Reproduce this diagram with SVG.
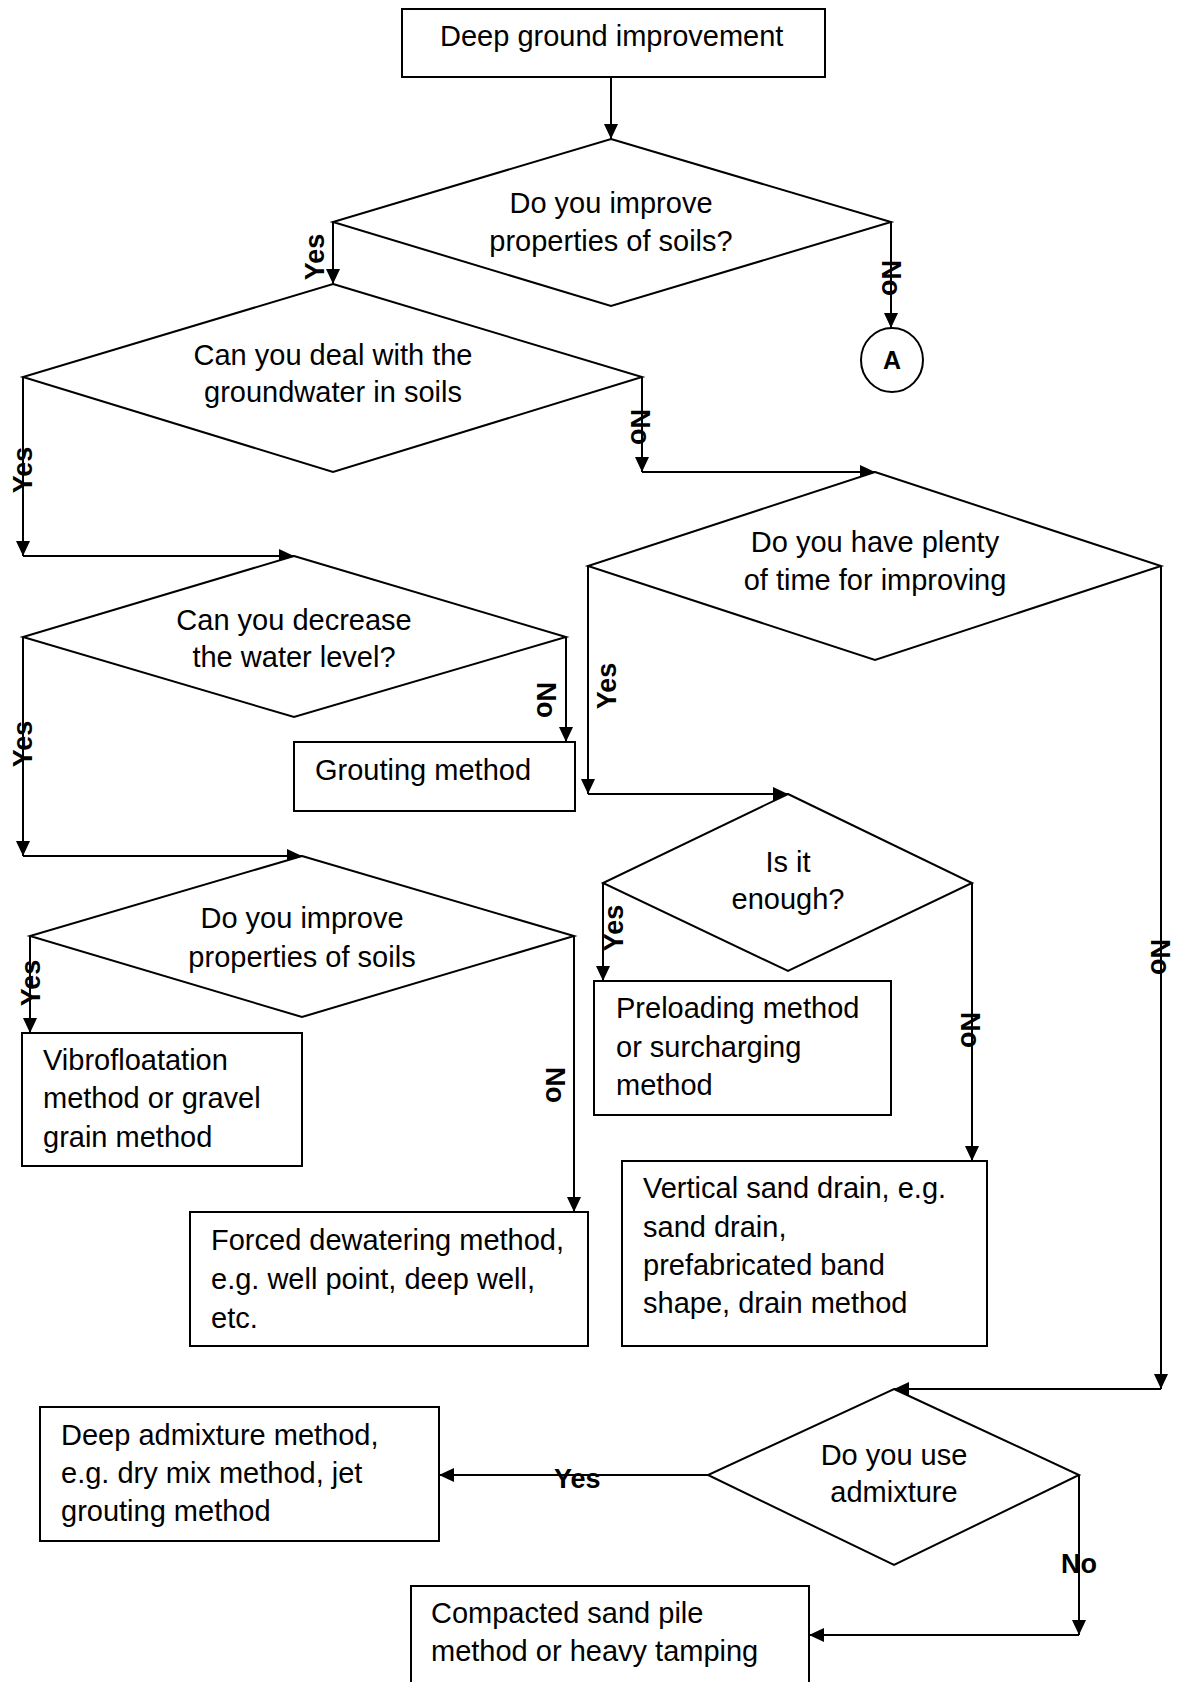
<svg xmlns="http://www.w3.org/2000/svg" width="1179" height="1682" viewBox="0 0 1179 1682">
<style>
  .shape { fill: #fff; stroke: #000; stroke-width: 2; }
  .line { fill: none; stroke: #000; stroke-width: 2; }
  .t { font-family: "Liberation Sans", Arial, sans-serif; font-size: 29px; fill: #000; }
  .c { text-anchor: middle; }
  .lbl { font-family: "Liberation Sans", Arial, sans-serif; font-size: 27px; font-weight: bold; fill: #000; }
  .lm { text-anchor: middle; }
</style>
<defs>
  <marker id="arr" markerUnits="userSpaceOnUse" markerWidth="15" markerHeight="14" refX="15" refY="7" orient="auto">
    <path d="M0,0 L15,7 L0,14 z" fill="#000"/>
  </marker>
</defs>
<rect width="1179" height="1682" fill="#fff"/>

<g id="connectors">
  <line class="line" x1="611" y1="77" x2="611" y2="139" marker-end="url(#arr)"/>
  <line class="line" x1="333" y1="222" x2="333" y2="284" marker-end="url(#arr)"/>
  <line class="line" x1="891" y1="222" x2="891" y2="328" marker-end="url(#arr)"/>
  <line class="line" x1="23" y1="377" x2="23" y2="556" marker-end="url(#arr)"/>
  <line class="line" x1="23" y1="556" x2="294" y2="556" marker-end="url(#arr)"/>
  <line class="line" x1="642" y1="377" x2="642" y2="472" marker-end="url(#arr)"/>
  <line class="line" x1="642" y1="472" x2="875" y2="472" marker-end="url(#arr)"/>
  <line class="line" x1="23" y1="637" x2="23" y2="856" marker-end="url(#arr)"/>
  <line class="line" x1="23" y1="856" x2="302" y2="856" marker-end="url(#arr)"/>
  <line class="line" x1="566" y1="637" x2="566" y2="742" marker-end="url(#arr)"/>
  <line class="line" x1="30" y1="936" x2="30" y2="1033" marker-end="url(#arr)"/>
  <line class="line" x1="574" y1="936" x2="574" y2="1212" marker-end="url(#arr)"/>
  <line class="line" x1="588" y1="566" x2="588" y2="794" marker-end="url(#arr)"/>
  <line class="line" x1="588" y1="794" x2="788" y2="794" marker-end="url(#arr)"/>
  <line class="line" x1="603" y1="883" x2="603" y2="981" marker-end="url(#arr)"/>
  <line class="line" x1="972" y1="883" x2="972" y2="1161" marker-end="url(#arr)"/>
  <line class="line" x1="1161" y1="566" x2="1161" y2="1389" marker-end="url(#arr)"/>
  <line class="line" x1="1161" y1="1389" x2="894" y2="1389" marker-end="url(#arr)"/>
  <line class="line" x1="708" y1="1475" x2="439" y2="1475" marker-end="url(#arr)"/>
  <line class="line" x1="1079" y1="1475" x2="1079" y2="1635" marker-end="url(#arr)"/>
  <line class="line" x1="1079" y1="1635" x2="809" y2="1635" marker-end="url(#arr)"/>
</g>

<g id="start">
  <rect class="shape" x="402" y="9" width="423" height="68"/>
  <text class="t" x="440" y="46">Deep ground improvement</text>
</g>

<g id="q1">
  <polygon class="shape" points="611,139 891,222 611,306 333,222"/>
  <text class="t c" x="611" y="213">Do you improve</text>
  <text class="t c" x="611" y="251">properties of soils?</text>
</g>

<g id="connA">
  <ellipse class="shape" cx="892" cy="360" rx="31" ry="32"/>
  <text class="lbl lm" x="892" y="369" style="font-size:25px">A</text>
</g>

<g id="q2">
  <polygon class="shape" points="333,284 642,377 333,472 23,377"/>
  <text class="t c" x="333" y="365">Can you deal with the</text>
  <text class="t c" x="333" y="402">groundwater in soils</text>
</g>

<g id="q3">
  <polygon class="shape" points="294,556 566,637 294,717 23,637"/>
  <text class="t c" x="294" y="630">Can you decrease</text>
  <text class="t c" x="294" y="667">the water level?</text>
</g>

<g id="grouting">
  <rect class="shape" x="294" y="742" width="281" height="69"/>
  <text class="t" x="315" y="780">Grouting method</text>
</g>

<g id="q4">
  <polygon class="shape" points="302,856 574,936 302,1017 30,936"/>
  <text class="t c" x="302" y="928">Do you improve</text>
  <text class="t c" x="302" y="967">properties of soils</text>
</g>

<g id="vibro">
  <rect class="shape" x="22" y="1033" width="280" height="133"/>
  <text class="t" x="43" y="1070">Vibrofloatation</text>
  <text class="t" x="43" y="1108">method or gravel</text>
  <text class="t" x="43" y="1147">grain method</text>
</g>

<g id="forced">
  <rect class="shape" x="190" y="1212" width="398" height="134"/>
  <text class="t" x="211" y="1250">Forced dewatering method,</text>
  <text class="t" x="211" y="1289">e.g. well point, deep well,</text>
  <text class="t" x="211" y="1328">etc.</text>
</g>

<g id="q5">
  <polygon class="shape" points="875,472 1161,566 875,660 588,566"/>
  <text class="t c" x="875" y="552">Do you have plenty</text>
  <text class="t c" x="875" y="590">of time for improving</text>
</g>

<g id="q6">
  <polygon class="shape" points="788,794 972,883 788,971 603,883"/>
  <text class="t c" x="788" y="872">Is it</text>
  <text class="t c" x="788" y="909">enough?</text>
</g>

<g id="preloading">
  <rect class="shape" x="594" y="981" width="297" height="134"/>
  <text class="t" x="616" y="1018">Preloading method</text>
  <text class="t" x="616" y="1057">or surcharging</text>
  <text class="t" x="616" y="1095">method</text>
</g>

<g id="vertical">
  <rect class="shape" x="622" y="1161" width="365" height="185"/>
  <text class="t" x="643" y="1198">Vertical sand drain, e.g.</text>
  <text class="t" x="643" y="1237">sand drain,</text>
  <text class="t" x="643" y="1275">prefabricated band</text>
  <text class="t" x="643" y="1313">shape, drain method</text>
</g>

<g id="q7">
  <polygon class="shape" points="894,1389 1079,1475 894,1565 708,1475"/>
  <text class="t c" x="894" y="1465">Do you use</text>
  <text class="t c" x="894" y="1502">admixture</text>
</g>

<g id="admixture">
  <rect class="shape" x="40" y="1407" width="399" height="134"/>
  <text class="t" x="61" y="1445">Deep admixture method,</text>
  <text class="t" x="61" y="1483">e.g. dry mix method, jet</text>
  <text class="t" x="61" y="1521">grouting method</text>
</g>

<g id="compacted">
  <rect class="shape" x="411" y="1586" width="398" height="130"/>
  <text class="t" x="431" y="1623">Compacted sand pile</text>
  <text class="t" x="431" y="1661">method or heavy tamping</text>
</g>

<g id="labels">
  <text class="lbl lm" transform="translate(314,257) rotate(-90)" y="10">Yes</text>
  <text class="lbl lm" transform="translate(892,278) rotate(90)" y="10">No</text>
  <text class="lbl lm" transform="translate(641,427) rotate(90)" y="10">No</text>
  <text class="lbl lm" transform="translate(22,470) rotate(-90)" y="10">Yes</text>
  <text class="lbl lm" transform="translate(547,700) rotate(90)" y="10">No</text>
  <text class="lbl lm" transform="translate(22,744) rotate(-90)" y="10">Yes</text>
  <text class="lbl lm" transform="translate(30,983) rotate(-90)" y="10">Yes</text>
  <text class="lbl lm" transform="translate(556,1085) rotate(90)" y="10">No</text>
  <text class="lbl lm" transform="translate(606,686) rotate(-90)" y="10">Yes</text>
  <text class="lbl lm" transform="translate(613,928) rotate(-90)" y="10">Yes</text>
  <text class="lbl lm" transform="translate(971,1030) rotate(90)" y="10">No</text>
  <text class="lbl lm" transform="translate(1161,957) rotate(90)" y="10">No</text>
  <text class="lbl" x="554" y="1488">Yes</text>
  <text class="lbl" x="1061" y="1573">No</text>
</g>
</svg>
